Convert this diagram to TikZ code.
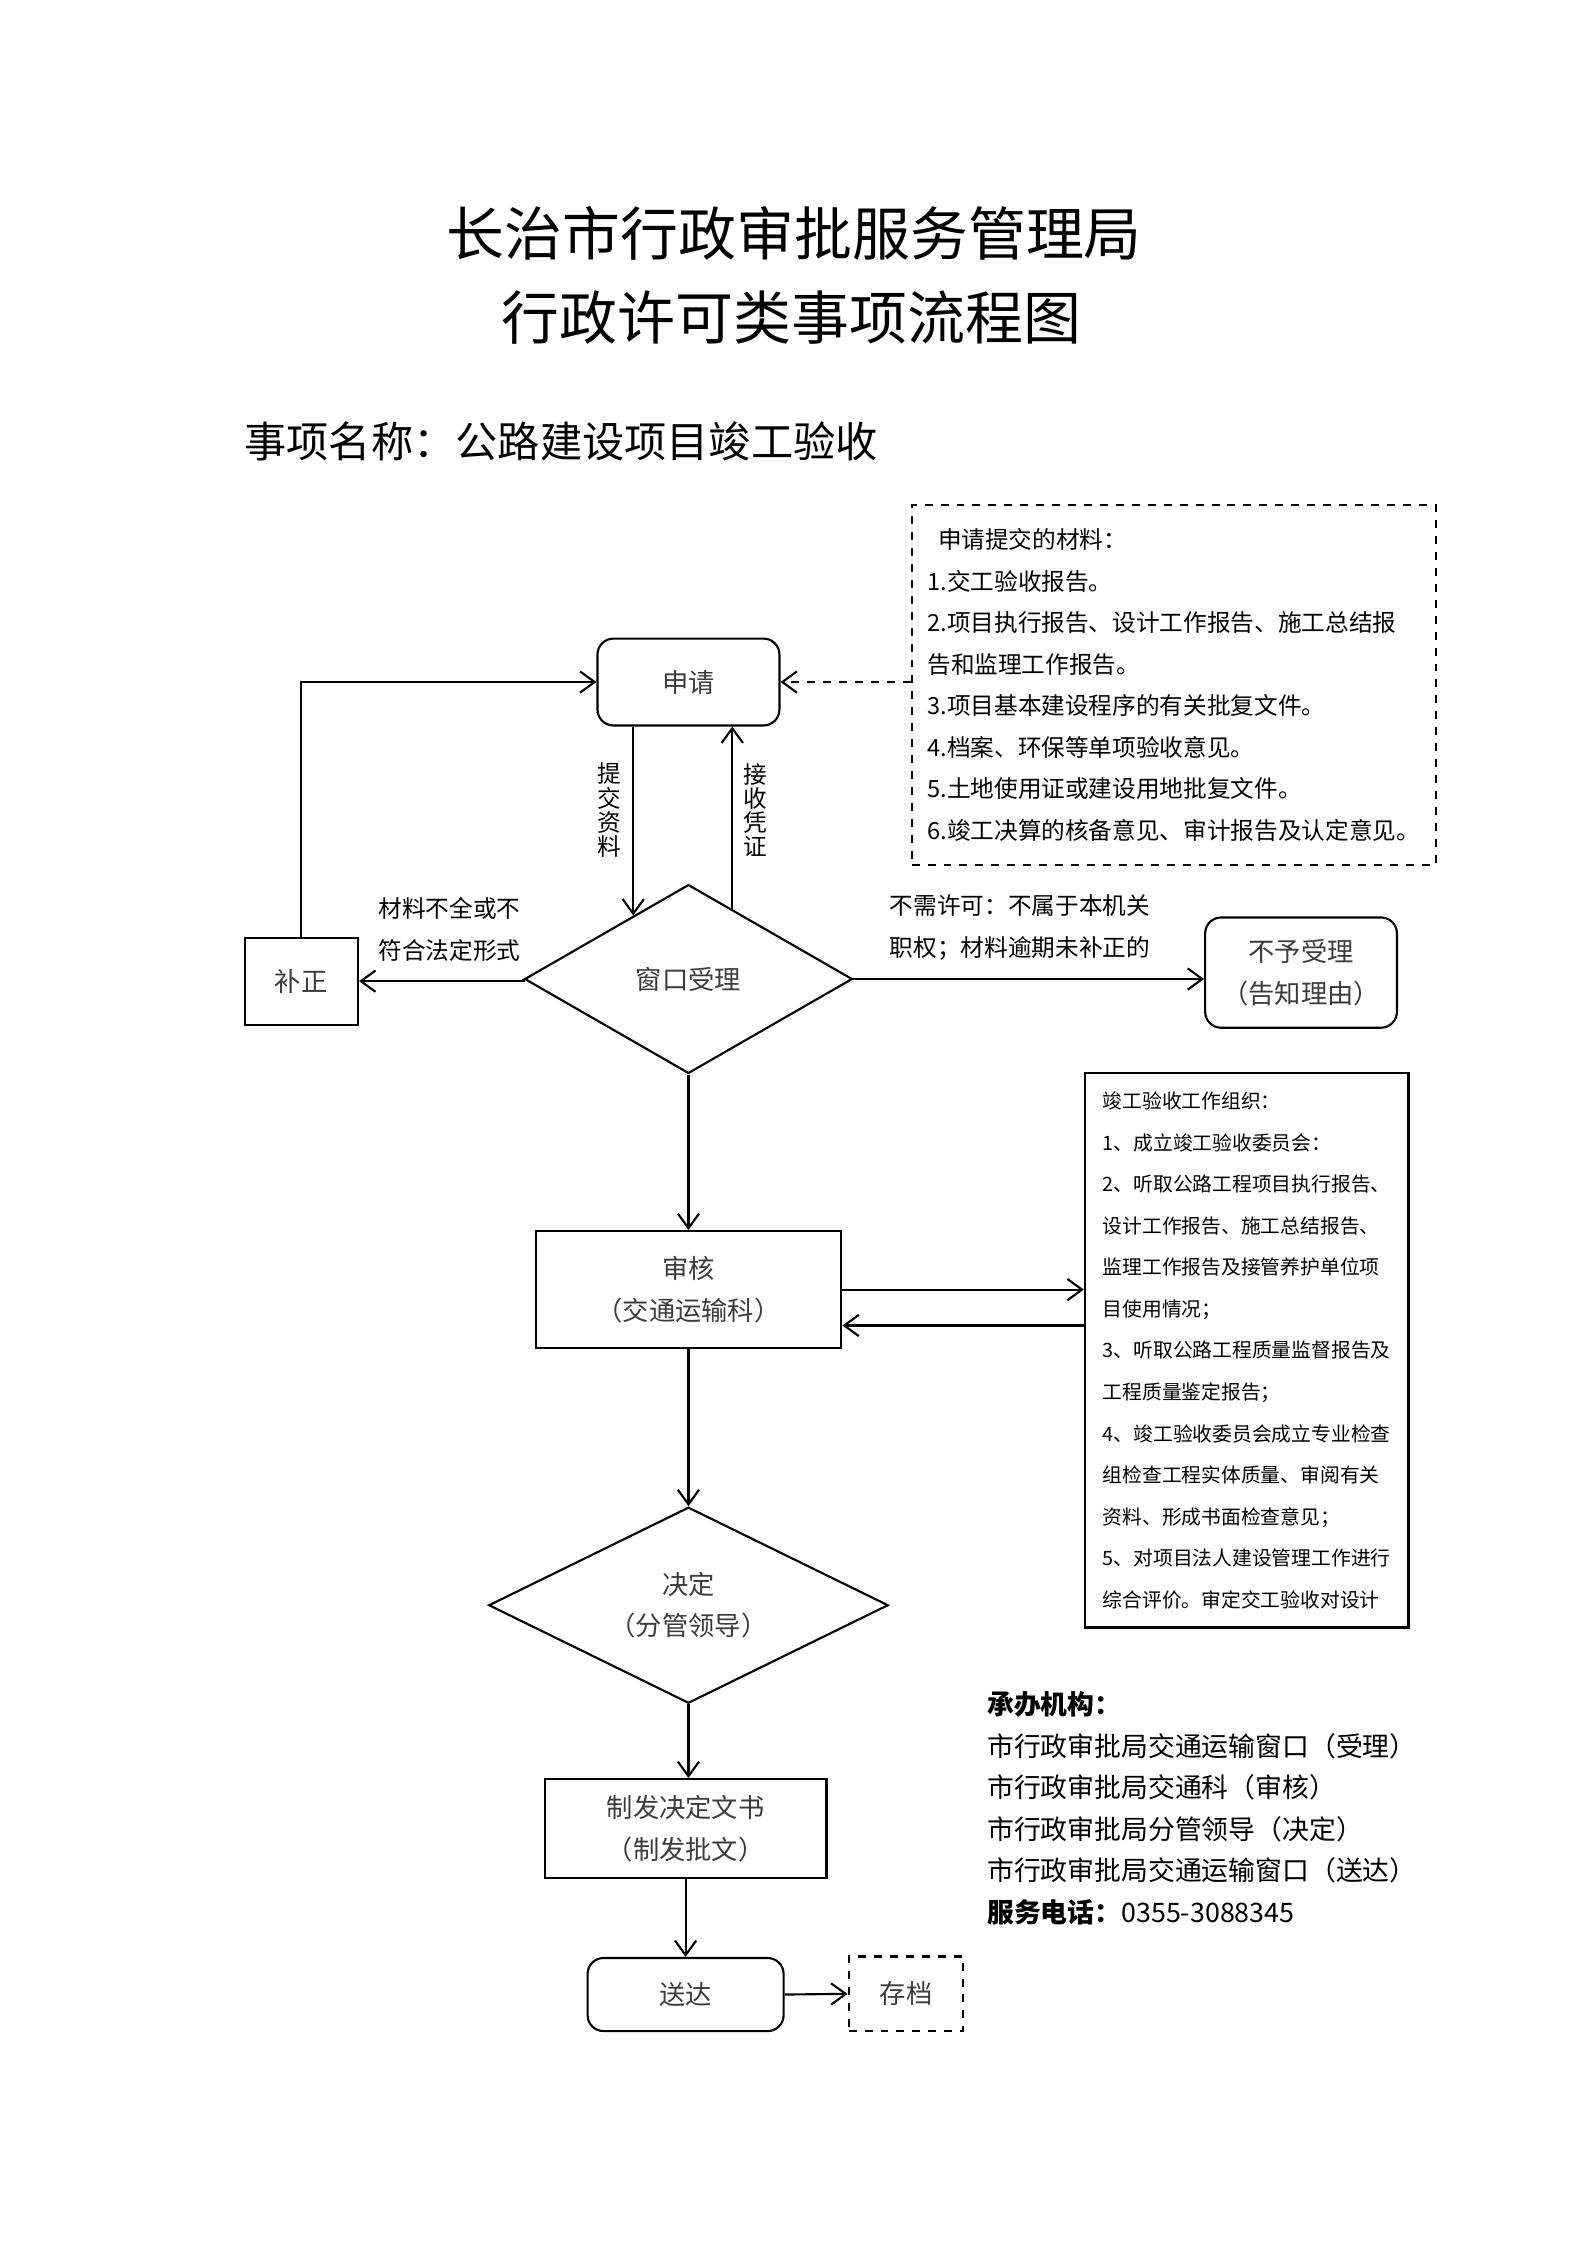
\documentclass[tikz,border=0pt]{standalone}
\usepackage{fontspec}
\setmainfont{Noto Sans CJK SC}
\usepackage{tikz}
\usetikzlibrary{shapes.geometric,arrows.meta}
\definecolor{mygray}{HTML}{3C3C3C}

\begin{document}
\begin{tikzpicture}[x=0.18938mm, y=-0.18938mm, line width=0.8pt,
    >={Straight Barb[length=5.5pt, width=8pt]},
    txt/.style={text=mygray, font=\fontsize{9.9}{15.63}\selectfont, align=center, inner sep=0pt},
    box/.style={txt, draw=black},
    roundbox/.style={box, rounded corners=6pt},
    choice/.style={box, diamond, shape aspect=2},
    label/.style={text=black, font=\fontsize{8.9}{15.63}\selectfont, align=left, inner sep=0pt},
    vlabel/.style={text=black, font=\fontsize{8.9}{9.1}\selectfont, align=center, inner sep=0pt}]
    \useasboundingbox (0, 0) rectangle (1108.9, 1568.5);
    \node[font=\fontsize{21.8}{21.8}\selectfont] (1) at (555, 163) {长治市行政审批服务管理局};
    \node[font=\fontsize{21.8}{21.8}\selectfont] (2) at (553, 222) {行政许可类事项流程图};
    \node[anchor=west, font=\fontsize{15.9}{15.9}\selectfont, inner sep=0pt] (3) at (170, 308) {事项名称：公路建设项目竣工验收};
    \node[draw, dashed, minimum width=197.3pt, minimum height=135.3pt, align=left, font=\fontsize{8.9}{15.63}\selectfont] (4) at (820, 478.5) {\hspace{4pt}申请提交的材料：\\1.交工验收报告。\\2.项目执行报告、设计工作报告、施工总结报\\告和监理工作报告。\\3.项目基本建设程序的有关批复文件。\\4.档案、环保等单项验收意见。\\5.土地使用证或建设用地批复文件。\\6.竣工决算的核备意见、审计报告及认定意见。};
    \node[roundbox, minimum width=68.5pt, minimum height=32.7pt] (5) at (481, 476.5) {申请};
    \node[choice, minimum width=123.4pt, minimum height=71.1pt] (6) at (481, 684) {窗口受理};
    \node[box, minimum width=42.7pt, minimum height=32.7pt] (7) at (210.5, 685.5) {补正};
    \node[roundbox, minimum width=72.2pt, minimum height=41.5pt] (8) at (909, 679.5) {不予受理\\（告知理由）};
    \node[box, minimum width=115.1pt, minimum height=44.1pt] (9) at (481, 901) {审核\\（交通运输科）};
    \node[box, text=black, minimum width=121.8pt, minimum height=208.6pt, align=left, font=\fontsize{7.45}{15.63}\selectfont] (10) at (871, 943.5) {竣工验收工作组织：\\1、成立竣工验收委员会：\\2、听取公路工程项目执行报告、\\设计工作报告、施工总结报告、\\监理工作报告及接管养护单位项\\目使用情况；\\3、听取公路工程质量监督报告及\\工程质量鉴定报告；\\4、竣工验收委员会成立专业检查\\组检查工程实体质量、审阅有关\\资料、形成书面检查意见；\\5、对项目法人建设管理工作进行\\综合评价。审定交工验收对设计};
    \node[choice, minimum width=150.4pt, minimum height=73.8pt] (11) at (481, 1121.5) {决定\\（分管领导）};
    \node[box, minimum width=106.1pt, minimum height=37.2pt] (12) at (479, 1277.5) {制发决定文书\\（制发批文）};
    \node[roundbox, minimum width=73.8pt, minimum height=27.5pt] (13) at (479, 1393.5) {送达};
    \node[box, dashed, minimum width=43.2pt, minimum height=28.1pt] (14) at (633, 1393) {存档};
    \node[vlabel] (15) at (426, 566) {提\\交\\资\\料};
    \node[vlabel] (16) at (528, 566) {接\\收\\凭\\证};
    \node[label] (17) at (314, 649.5) {材料不全或不\\符合法定形式};
    \node[label, anchor=west] (18) at (621, 648) {不需许可：不属于本机关\\职权；材料逾期未补正的};
    \node[anchor=west, align=left, inner sep=0pt, font=\fontsize{10.1}{15.63}\selectfont] (19) at (689, 1263.5) {{\bfseries 承办机构：}\\市行政审批局交通运输窗口（受理）\\市行政审批局交通科（审核）\\市行政审批局分管领导（决定）\\市行政审批局交通运输窗口（送达）\\{\bfseries 服务电话：}0355-3088345};
    \draw[->, dashed] (4.west |- 5.east) -- (5.east);
    \draw[->] (5.south -| 6.131) -- (6.131);
    \draw[->] (6.58) -- (5.south -| 6.58);
    \draw[->] (7.north) |- (5.west);
    \draw[->] (6.west) -- (7.east -| 6.west) -- (7.east);
    \draw[->] (6.east) -- (6.east -| 8.west);
    \draw[->] (6.south) -- (9.north);
    \draw[->] (9.east) -- (9.east -| 10.west);
    \coordinate (20) at ([yshift=-13.5pt]9.east);
    \draw[->] (20 -| 10.west) -- (20);
    \draw[->] (9.south) -- (11.north);
    \draw[->] (11.south) -- (11.south |- 12.north);
    \draw[->] (12.south) -- (13.north);
    \draw[->] (13.east) -- (14.west);
\end{tikzpicture}
\end{document}
